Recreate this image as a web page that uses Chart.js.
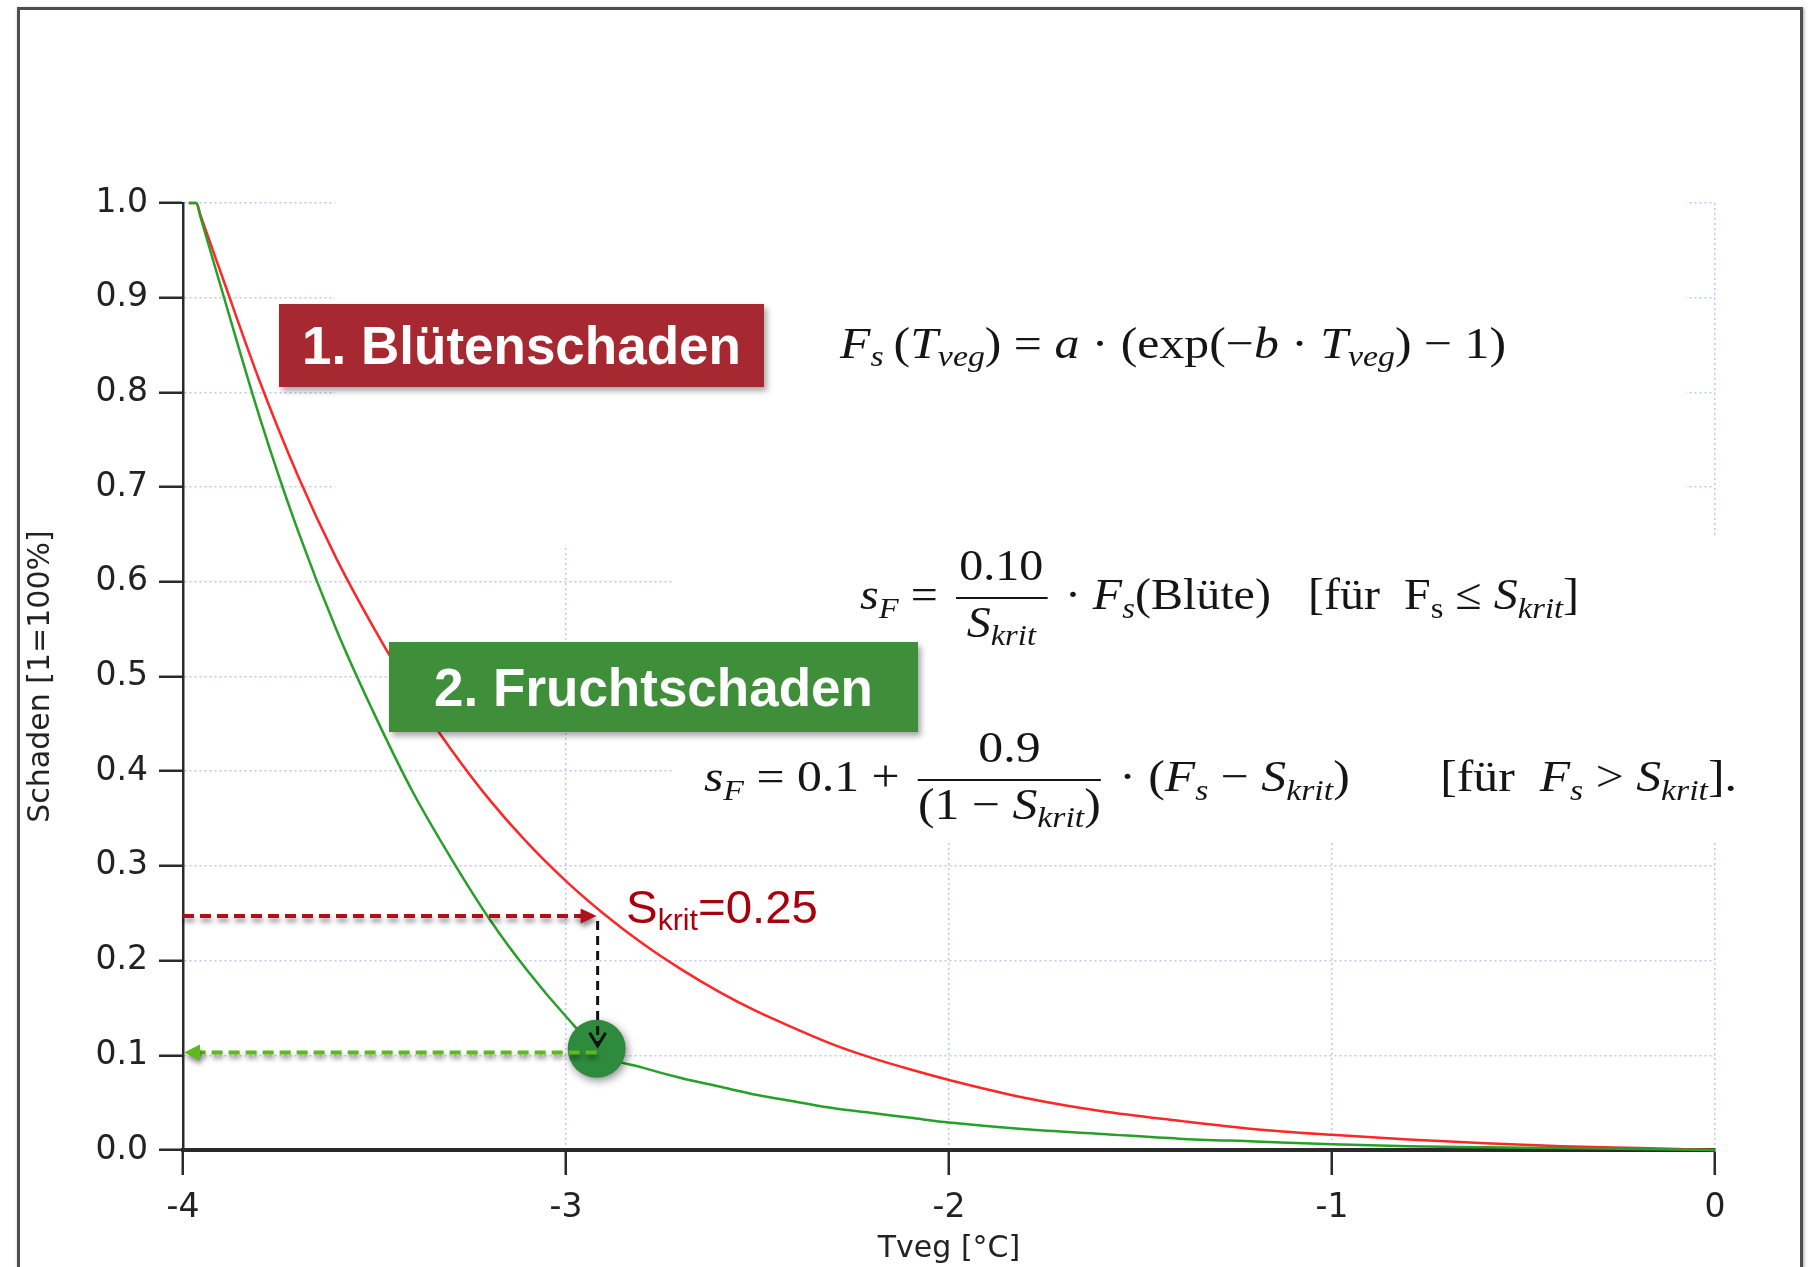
<!DOCTYPE html>
<html><head><meta charset="utf-8">
<script src="https://cdn.jsdelivr.net/npm/chart.js@4.4.1/dist/chart.umd.min.js"></script>
<style>
html,body{margin:0;padding:0;background:#fff;overflow:hidden;width:1810px;height:1267px}
#wrap{position:relative;width:1810px;height:1267px}
canvas{position:absolute;left:0;top:0}
.frame{position:absolute;left:17px;top:7px;width:1780px;height:1300px;border:3px solid #4e4e4e;box-shadow:1px 1px 3px rgba(0,0,0,.35);pointer-events:none}
.tag{position:absolute;color:#fff;font-family:"Liberation Sans",Arial,sans-serif;font-weight:bold;font-size:53px;display:flex;align-items:center;justify-content:center;box-shadow:3px 4px 6px rgba(0,0,0,.35);white-space:nowrap}
#tag1{left:279px;top:304px;width:485px;height:83px;background:#a62932}
#tag2{left:389px;top:642px;width:529px;height:90px;background:#3e8e3a}
.fml{position:absolute;left:0;top:0;white-space:nowrap;font-family:"Liberation Serif","DejaVu Serif",serif;font-size:44px;color:#151515;transform-origin:0 0;line-height:1}
.fml sub{font-size:.68em;vertical-align:-.28em;line-height:0}
.bl{display:inline-block;width:0;height:0}
.frac{display:inline-block;text-align:center;vertical-align:-.63em;margin:0 .12em}
.frac .n{display:block;border-bottom:2px solid #151515;padding:0 .08em .18em;line-height:1.05}
.frac .d{display:block;padding-top:.02em;line-height:1.05}
.sp{display:inline-block;height:1px}
#skrit{position:absolute;left:0;top:0;white-space:nowrap;font-family:"Liberation Sans",Arial,sans-serif;font-size:47px;color:#a8000d;transform-origin:0 0;line-height:1}
#skrit sub{font-size:30px;vertical-align:-7px;line-height:0}
</style></head>
<body>
<div id="wrap">
<canvas id="c" width="1810" height="1267" style="width:1810px;height:1267px"></canvas>
<div class="tag" id="tag1">1. Blütenschaden</div>
<div class="tag" id="tag2">2. Fruchtschaden</div>
<div class="fml" id="f1"><span class="bl"></span><i>F</i><sub><i>s</i></sub>&#8201;(<i>T</i><sub><i>veg</i></sub>) = <i>a</i> · (exp(−<i>b</i> · <i>T</i><sub><i>veg</i></sub>) − 1)</div>
<div class="fml" id="f2"><span class="bl"></span><i>s</i><sub><i>F</i></sub> = <span class="frac"><span class="n">0.10</span><span class="d"><i>S</i><sub><i>krit</i></sub></span></span> · <i>F</i><sub><i>s</i></sub>(Blüte)<span class="sp" style="width:34px"></span>[für&nbsp;&nbsp;F<sub>s</sub> ≤ <i>S</i><sub><i>krit</i></sub>]</div>
<div class="fml" id="f3"><span class="bl"></span><i>s</i><sub><i>F</i></sub> = 0.1 + <span class="frac"><span class="n">0.9</span><span class="d">(1 − <i>S</i><sub><i>krit</i></sub>)</span></span> · (<i>F</i><sub><i>s</i></sub> − <i>S</i><sub><i>krit</i></sub>)<span class="sp" style="width:80px"></span>[für&nbsp;&nbsp;<i>F</i><sub><i>s</i></sub> &gt; <i>S</i><sub><i>krit</i></sub>].</div>
<div id="skrit"><span class="bl"></span>S<sub>krit</sub>=0.25</div>
<div class="frame"></div>
</div>
<script>
// ---- data ----
const temps = [-3.985, -3.965, -3.955, -3.9, -3.8, -3.7, -3.6, -3.5, -3.4, -3.3, -3.2, -3.1, -3.0, -2.9, -2.8, -2.7, -2.6, -2.5, -2.4, -2.3, -2.2, -2.1, -2.0, -1.8, -1.6, -1.4, -1.2, -1.0, -0.8, -0.6, -0.4, -0.2, 0];
const bluetenschaden = [1.0, 1.0, 0.988, 0.925, 0.812, 0.712, 0.625, 0.550, 0.482, 0.423, 0.370, 0.324, 0.284, 0.249, 0.218, 0.191, 0.167, 0.146, 0.128, 0.111, 0.097, 0.085, 0.074, 0.055, 0.041, 0.031, 0.022, 0.016, 0.011, 0.007, 0.004, 0.002, 0];
const fruchtschaden = [1.0, 1.0, 0.986, 0.910, 0.774, 0.654, 0.550, 0.460, 0.378, 0.308, 0.244, 0.189, 0.141, 0.100, 0.087, 0.076, 0.067, 0.058, 0.051, 0.044, 0.039, 0.034, 0.029, 0.022, 0.017, 0.012, 0.009, 0.006, 0.004, 0.003, 0.002, 0.001, 0];
const xTickValues = [-4, -3, -2, -1, 0];
const xTickLabels = ['-4', '-3', '-2', '-1', '0'];
const yTickValues = [0, 0.1, 0.2, 0.3, 0.4, 0.5, 0.6, 0.7, 0.8, 0.9, 1.0];
const yTickLabels = ['0.0', '0.1', '0.2', '0.3', '0.4', '0.5', '0.6', '0.7', '0.8', '0.9', '1.0'];
const xAxisTitle = 'Tveg [°C]';
const yAxisTitle = 'Schaden [1=100%]';
const tKrit = -2.92;        // temperature where Blütenschaden reaches S_krit
const sKritLevel = 0.247;   // drawn level of the S_krit arrow
const dotValue = 0.107;     // green marker
const fruchtLevel = 0.103;  // green arrow level
const arrowEndValue = 0.11; // tip of black dotted arrow

const overlay = {
  id: 'overlay',
  beforeDatasetsDraw(chart) {
    const c = chart.ctx;
    c.save(); c.fillStyle = '#fff';
    c.fillRect(335, 190, 1686 - 335, 546 - 190);
    c.fillRect(672, 538, 1750 - 672, 843 - 538);
    c.restore();
  },
  beforeDatasetDraw(chart, args) {
    if (args.index === 0) {
      const c = chart.ctx; c.save();
      c.shadowColor = 'rgba(0,0,0,0.45)'; c.shadowBlur = 8; c.shadowOffsetX = 2; c.shadowOffsetY = 3;
    }
  },
  afterDatasetDraw(chart, args) {
    if (args.index === 0) chart.ctx.restore();
  },
  afterDatasetsDraw(chart) {
    const c = chart.ctx, xs = chart.scales.x, ys = chart.scales.y;
    const x0 = xs.getPixelForValue(-4), xk = xs.getPixelForValue(tKrit);
    const yS = ys.getPixelForValue(sKritLevel), yF = ys.getPixelForValue(fruchtLevel), yV = ys.getPixelForValue(arrowEndValue);
    // red dashed arrow
    c.save();
    c.shadowColor = 'rgba(0,0,0,0.45)'; c.shadowBlur = 5; c.shadowOffsetX = 1; c.shadowOffsetY = 4;
    c.strokeStyle = '#b0101c'; c.fillStyle = '#b0101c'; c.lineWidth = 4; c.setLineDash([11, 6]);
    c.beginPath(); c.moveTo(x0, yS); c.lineTo(xk - 14, yS); c.stroke();
    c.setLineDash([]);
    c.beginPath(); c.moveTo(xk, yS); c.lineTo(xk - 16, yS - 7.5); c.lineTo(xk - 16, yS + 7.5); c.closePath(); c.fill();
    // green dashed arrow
    c.strokeStyle = '#5cba1c'; c.fillStyle = '#5cba1c'; c.setLineDash([11, 6]);
    c.beginPath(); c.moveTo(xk, yF); c.lineTo(x0 + 14, yF); c.stroke();
    c.setLineDash([]);
    c.beginPath(); c.moveTo(x0 + 1, yF); c.lineTo(x0 + 17, yF - 8); c.lineTo(x0 + 17, yF + 8); c.closePath(); c.fill();
    c.restore();
    // black dotted arrow
    c.save();
    c.strokeStyle = '#111'; c.lineWidth = 3; c.setLineDash([9, 6]);
    c.beginPath(); c.moveTo(xk + 1, yS + 5); c.lineTo(xk + 1, yV - 2); c.stroke();
    c.setLineDash([]); c.lineWidth = 3;
    c.beginPath(); c.moveTo(xk - 7, yV - 13); c.lineTo(xk + 1, yV); c.lineTo(xk + 9, yV - 13); c.stroke();
    c.restore();
  }
};

const tickFont = {family: 'DejaVu Sans', size: 33};
new Chart(document.getElementById('c'), {
  type: 'line',
  data: {
    datasets: [
      {type: 'scatter', label: 'Punkt', data: [{x: tKrit, y: dotValue}], pointRadius: 29, pointHoverRadius: 29,
       backgroundColor: '#2e8b3d', borderWidth: 0, order: 0, clip: false},
      {label: 'Fruchtschaden', data: temps.map((t, i) => ({x: t, y: fruchtschaden[i]})),
       borderColor: '#26a026', borderWidth: 2.5, pointRadius: 0, cubicInterpolationMode: 'monotone', order: 1, clip: 6},
      {label: 'Blütenschaden', data: temps.map((t, i) => ({x: t, y: bluetenschaden[i]})),
       borderColor: '#ff2626', borderWidth: 2.5, pointRadius: 0, cubicInterpolationMode: 'monotone', order: 2, clip: 6}
    ]
  },
  options: {
    responsive: false, animation: false, devicePixelRatio: 1,
    layout: {padding: {top: 203, right: 95, left: 0, bottom: 0}},
    plugins: {legend: {display: false}, tooltip: {enabled: false}},
    events: [],
    scales: {
      x: {
        type: 'linear', min: -4, max: 0,
        afterBuildTicks: s => { s.ticks = xTickValues.map(v => ({value: v})); },
        afterFit: s => { s.height = 117; },
        ticks: {font: tickFont, color: '#222', padding: 14, maxRotation: 0,
                callback: (v, i) => xTickLabels[i]},
        grid: {color: '#c4c4f6', lineWidth: 1.5, tickLength: 25, tickColor: '#2a2a2a', tickWidth: 2.5},
        border: {color: '#2a2a2a', width: 4, dash: [2, 3]},
        title: {display: true, text: xAxisTitle, font: {family: 'DejaVu Sans', size: 30}, color: '#222', padding: {top: 0, bottom: 0}}
      },
      y: {
        type: 'linear', min: 0, max: 1,
        afterBuildTicks: s => { s.ticks = yTickValues.map(v => ({value: v})); },
        afterFit: s => { s.width = 183; },
        ticks: {font: tickFont, color: '#222', padding: 11,
                callback: (v, i) => yTickLabels[i]},
        grid: {color: '#c4c4f6', lineWidth: 1.5, tickLength: 24, tickColor: '#2a2a2a', tickWidth: 2.5},
        border: {color: '#2a2a2a', width: 2.5, dash: [2, 3]},
        title: {display: true, text: yAxisTitle, font: {family: 'DejaVu Sans', size: 30}, color: '#222', padding: {top: 23, bottom: 0}}
      }
    }
  },
  plugins: [overlay]
});

function place(id, left, right, baseline) {
  const el = document.getElementById(id);
  el.style.transform = 'none'; el.style.left = '0px'; el.style.top = '0px';
  const r = el.getBoundingClientRect();
  const b = el.querySelector('.bl').getBoundingClientRect();
  el.style.left = left + 'px';
  el.style.top = (baseline - (b.top - r.top)) + 'px';
  el.style.transform = 'scaleX(' + ((right - left) / r.width) + ')';
}
function placeAll() {
  place('f1', 840, 1506, 358);
  place('f2', 860, 1579, 609);
  place('f3', 704, 1737, 791);
  place('skrit', 626, 818, 923);
}
placeAll();
if (document.fonts && document.fonts.ready) document.fonts.ready.then(placeAll);
</script>
</body></html>
